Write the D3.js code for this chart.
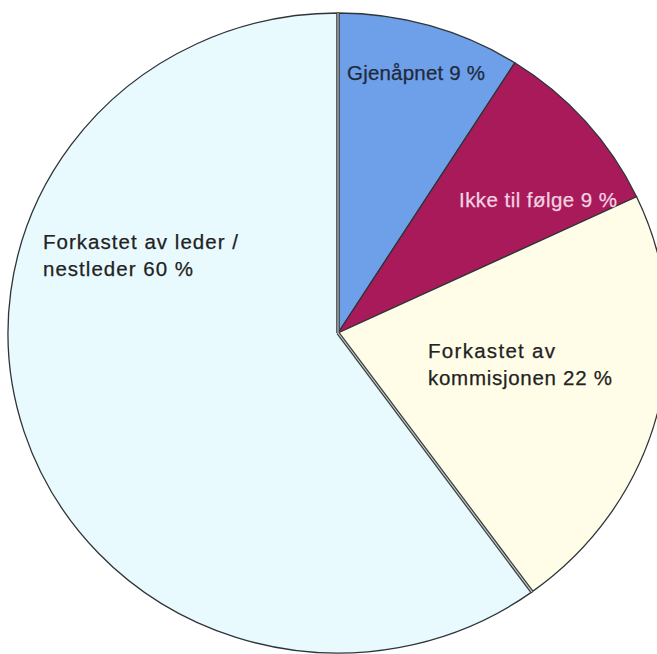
<!DOCTYPE html>
<html>
<head>
<meta charset="utf-8">
<script src="https://cdn.jsdelivr.net/npm/d3@7/dist/d3.min.js"></script>
<style>
  html, body { margin: 0; padding: 0; background: #fff; }
  svg { display: block; }
  text { font-family: "Liberation Sans", Arial, sans-serif; }
</style>
</head>
<body>
<svg id="chart" width="657" height="654"></svg>
<script>
// ---- data ----
const categories = ["Gjenåpnet", "Ikke til følge", "Forkastet av kommisjonen", "Forkastet av leder / nestleder"];
const values = [9, 9, 22, 60];
const labelLines = [
  ["Gjenåpnet 9 %"],
  ["Ikke til følge 9 %"],
  ["Forkastet av", "kommisjonen 22 %"],
  ["Forkastet av leder /", "nestleder 60 %"]
];
const colors = ["#6e9fe9", "#a91a5a", "#fffde7", "#e9fafe"];
const labelColors = ["#1f2a3c", "#f2d3e2", "#222222", "#222222"];

// ---- layout ----
const cx = 338, cy = 333, ry = 320, rx = 330;
const svg = d3.select("#chart");
const g = svg.append("g")
  .attr("transform", `translate(${cx},${cy}) scale(${rx / ry},1)`);

const pie = d3.pie().value(d => d.value).sort(null);
const arc = d3.arc().innerRadius(0).outerRadius(ry);
const data = pie(categories.map((c, i) => ({ name: c, value: values[i], i })));

g.selectAll("path.slice")
  .data(data)
  .enter().append("path")
  .attr("class", "slice")
  .attr("d", arc)
  .attr("fill", d => colors[d.data.i])
  .attr("stroke", "#2e3438")
  .attr("stroke-width", 1.3)
  .attr("stroke-linejoin", "round")
  .attr("vector-effect", "non-scaling-stroke");

// double-line edges of the large slice
const big = data[3];
[big.startAngle, big.endAngle].forEach(a => {
  const x2 = Math.sin(a) * ry, y2 = -Math.cos(a) * ry;
  g.append("line").attr("x1", 0).attr("y1", 0).attr("x2", x2).attr("y2", y2)
    .attr("stroke", "#3a3f42").attr("stroke-width", 3.6)
    .attr("vector-effect", "non-scaling-stroke");
  g.append("line").attr("x1", 0).attr("y1", 0).attr("x2", x2).attr("y2", y2)
    .attr("stroke", "#c9cfc9").attr("stroke-width", 1.1)
    .attr("vector-effect", "non-scaling-stroke");
});

// ---- labels ----
const labelPos = [
  { x: 347, y: 80, w: [138] },
  { x: 459, y: 207, w: [158] },
  { x: 428, y: 358, w: [127, 184] },
  { x: 43, y: 249, w: [195, 150] }
];
const lineH = 26.5;
labelLines.forEach((lines, i) => {
  lines.forEach((s, j) => {
    svg.append("text")
      .attr("x", labelPos[i].x)
      .attr("y", labelPos[i].y + j * lineH)
      .attr("font-size", 20.5)
      .attr("fill", labelColors[i])
      .attr("stroke", labelColors[i])
      .attr("stroke-width", 0.25)
      .attr("textLength", labelPos[i].w[j])
      .attr("lengthAdjust", "spacing")
      .text(s);
  });
});
</script>
</body>
</html>
